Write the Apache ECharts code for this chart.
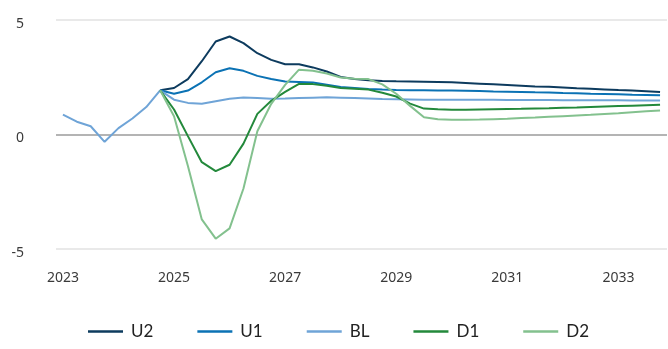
<!DOCTYPE html>
<html>
<head>
<meta charset="utf-8">
<script src="https://cdn.jsdelivr.net/npm/echarts@6/dist/echarts.min.js"></script>
<style>
  html, body { margin: 0; padding: 0; background: #ffffff; }
  #chart { width: 668px; height: 349px; }
</style>
</head>
<body>
<div id="chart"></div>
<script>
// Quarterly categories, 2023 Q1 to 2033 Q4
const quarters = [
  '2023 Q1','2023 Q2','2023 Q3','2023 Q4',
  '2024 Q1','2024 Q2','2024 Q3','2024 Q4',
  '2025 Q1','2025 Q2','2025 Q3','2025 Q4',
  '2026 Q1','2026 Q2','2026 Q3','2026 Q4',
  '2027 Q1','2027 Q2','2027 Q3','2027 Q4',
  '2028 Q1','2028 Q2','2028 Q3','2028 Q4',
  '2029 Q1','2029 Q2','2029 Q3','2029 Q4',
  '2030 Q1','2030 Q2','2030 Q3','2030 Q4',
  '2031 Q1','2031 Q2','2031 Q3','2031 Q4',
  '2032 Q1','2032 Q2','2032 Q3','2032 Q4',
  '2033 Q1','2033 Q2','2033 Q3','2033 Q4'
];

// Scenario paths (null before the scenarios branch off the baseline)
const u2 = [null, null, null, null, null, null, null,
  1.93, 2.03, 2.42, 3.20, 4.06, 4.28, 3.99, 3.55, 3.26, 3.07, 3.07, 2.93, 2.75, 2.51,
  2.42, 2.37, 2.34, 2.32, 2.31, 2.30, 2.29, 2.28, 2.25, 2.22, 2.19, 2.16, 2.13, 2.10,
  2.08, 2.05, 2.02, 2.00, 1.97, 1.94, 1.92, 1.89, 1.86];

const u1 = [null, null, null, null, null, null, null,
  1.93, 1.78, 1.92, 2.28, 2.72, 2.89, 2.78, 2.56, 2.42, 2.31, 2.29, 2.27, 2.17, 2.07,
  2.03, 1.99, 1.96, 1.94, 1.93, 1.93, 1.92, 1.92, 1.91, 1.90, 1.88, 1.87, 1.86, 1.84,
  1.83, 1.81, 1.80, 1.78, 1.77, 1.76, 1.74, 1.73, 1.71];

const bl = [0.87, 0.56, 0.36, -0.32, 0.28, 0.70, 1.20,
  1.93, 1.52, 1.38, 1.34, 1.45, 1.56, 1.62, 1.59, 1.56, 1.57, 1.59, 1.61, 1.63, 1.61,
  1.59, 1.57, 1.55, 1.54, 1.53, 1.52, 1.52, 1.52, 1.52, 1.52, 1.52, 1.51, 1.51, 1.51,
  1.51, 1.50, 1.50, 1.50, 1.50, 1.50, 1.49, 1.49, 1.49];

const d1 = [null, null, null, null, null, null, null,
  1.93, 1.09, -0.07, -1.21, -1.60, -1.32, -0.40, 0.90, 1.47, 1.86, 2.21, 2.20, 2.13, 2.03,
  2.00, 1.96, 1.82, 1.66, 1.35, 1.13, 1.10, 1.08, 1.08, 1.09, 1.10, 1.11, 1.12, 1.14,
  1.15, 1.17, 1.18, 1.20, 1.22, 1.24, 1.26, 1.28, 1.30];

const d2 = [null, null, null, null, null, null, null,
  1.93, 0.80, -1.38, -3.71, -4.55, -4.10, -2.36, 0.14, 1.34, 2.17, 2.83, 2.78, 2.66, 2.49,
  2.43, 2.42, 2.19, 1.78, 1.25, 0.75, 0.67, 0.64, 0.64, 0.65, 0.67, 0.69, 0.72, 0.74,
  0.77, 0.80, 0.83, 0.86, 0.90, 0.93, 0.97, 1.01, 1.05];

const seriesNames = ['U2', 'U1', 'BL', 'D1', 'D2'];
const seriesData = [u2, u1, bl, d1, d2];
const seriesColors = ['#0d3b5e', '#0b72b4', '#6fa4d7', '#23893b', '#83c18e'];

const chart = echarts.init(document.getElementById('chart'), null, { renderer: 'canvas' });

chart.setOption({
  animation: false,
  backgroundColor: '#ffffff',
  grid: { left: 56, right: 1, top: 20, bottom: 100, containLabel: false },
  xAxis: {
    type: 'category',
    data: quarters,
    boundaryGap: true,
    axisLine: { show: false, onZero: false },
    axisTick: { show: false },
    splitLine: { show: false },
    axisLabel: {
      interval: 7,
      margin: 22,
      color: '#3a3a3a',
      fontFamily: 'Noto Sans',
      fontSize: 14,
      formatter: function (v) { return v.slice(0, 4); }
    }
  },
  yAxis: {
    type: 'value',
    min: -5,
    max: 5,
    interval: 5,
    axisLine: { show: false },
    axisTick: { show: false },
    axisLabel: {
      margin: 32,
      color: '#3a3a3a',
      fontFamily: 'Noto Sans',
      fontSize: 14,
      verticalAlign: 'top',
      lineHeight: 8
    },
    splitLine: {
      show: true,
      lineStyle: { color: ['#e9e9e9', '#b4b4b4', '#e9e9e9'], width: 2 }
    }
  },
  legend: {
    left: 88,
    top: 323,
    padding: 0,
    icon: 'rect',
    itemWidth: 35,
    itemHeight: 2.5,
    itemGap: 44,
    textStyle: {
      fontFamily: 'Lato',
      fontSize: 17,
      color: '#222222',
      padding: [0, 0, 0, 3]
    },
    data: seriesNames
  },
  series: seriesNames.map(function (name, i) {
    return {
      name: name,
      type: 'line',
      data: seriesData[i],
      showSymbol: false,
      symbol: 'none',
      connectNulls: false,
      lineStyle: { color: seriesColors[i], width: 2 },
      itemStyle: { color: seriesColors[i] }
    };
  })
});
</script>
</body>
</html>
